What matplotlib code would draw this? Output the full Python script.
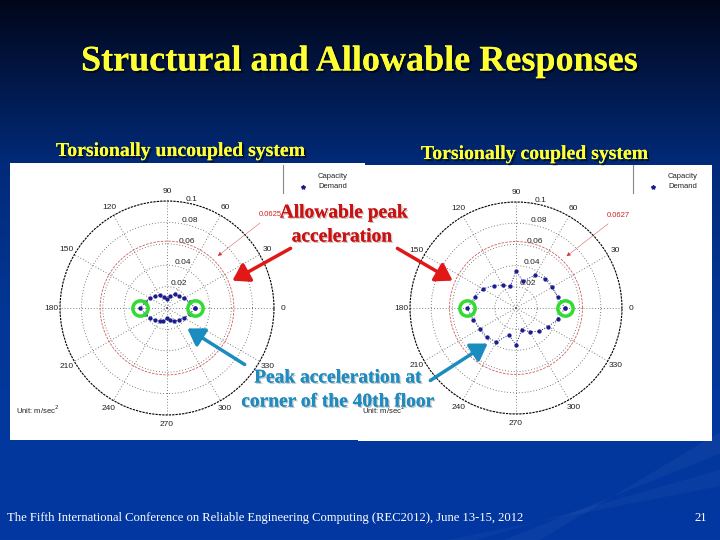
import numpy as np
import matplotlib
matplotlib.use('Agg')
import matplotlib.pyplot as plt
from matplotlib.colors import LinearSegmentedColormap
from matplotlib.patches import Rectangle, FancyArrowPatch, Polygon
import matplotlib.patheffects as pe

W, H = 720, 540

# data (peak acceleration at the corner, m/sec^2)
angles_deg = [0, 15, 30, 45, 60, 75, 90, 105, 120, 135, 150, 165,
              180, 195, 210, 225, 240, 255, 270, 285, 300, 315, 330, 345]
demand_uncoupled = [0.026, 0.022, 0.018, 0.016, 0.015, 0.012, 0.008, 0.011,
                    0.014, 0.016, 0.018, 0.021, 0.025, 0.021, 0.018, 0.016,
                    0.014, 0.013, 0.009, 0.012, 0.014, 0.016, 0.018, 0.022]
demand_coupled = [0.046, 0.041, 0.039, 0.039, 0.036, 0.026, 0.035, 0.021,
                  0.025, 0.030, 0.036, 0.040, 0.046, 0.042, 0.039, 0.039,
                  0.037, 0.026, 0.035, 0.021, 0.026, 0.031, 0.035, 0.041]
capacity_uncoupled = 0.0625
capacity_coupled = 0.0627
r_ticks = [0.02, 0.04, 0.06, 0.08, 0.1]
r_tick_labels = ['0.02', '0.04', '0.06', '0.08', '0.1']
theta_ticks = [0, 30, 60, 90, 120, 150, 180, 210, 240, 270, 300, 330]

title = 'Structural and Allowable Responses'
sub_left = 'Torsionally uncoupled system'
sub_right = 'Torsionally coupled system'
footer = ('The Fifth International Conference on Reliable Engineering '
          'Computing (REC2012), June 13-15, 2012')

SERIF = 'Liberation Serif'
SANS = 'Liberation Sans'


def fx(x):
    return x / W


def fy(y):
    return 1 - y / H


fig = plt.figure(figsize=(7.2, 5.4), dpi=100)

# slide background
bg = fig.add_axes([0, 0, 1, 1], zorder=-10)
cmap = LinearSegmentedColormap.from_list(
    'slide', [(0.0, '#01061a'), (0.3, '#022a78'), (0.6, '#023798'), (1.0, '#0338a2')])
bg.imshow(np.linspace(0, 1, 256).reshape(-1, 1), aspect='auto', cmap=cmap,
          extent=[0, 1, 0, 1])
bg.add_patch(Polygon([[0.70, 0.0], [1.0, 0.16], [1.0, 0.20], [0.75, 0.0]],
                     closed=True, color='white', alpha=0.04, lw=0))
bg.add_patch(Polygon([[0.62, 0.0], [1.0, 0.10], [1.0, 0.13], [0.66, 0.0]],
                     closed=True, color='white', alpha=0.03, lw=0))
# white panels of the two pasted figures
bg.add_patch(Rectangle((fx(10), fy(440)), fx(365 - 10), (440 - 163) / H,
                       color='white', lw=0))
bg.add_patch(Rectangle((fx(358), fy(441)), fx(712 - 358), (441 - 165) / H,
                       color='white', lw=0))
bg.set_xlim(0, 1)
bg.set_ylim(0, 1)
bg.axis('off')

shadow = [pe.withSimplePatchShadow(offset=(1.5, -1.5), shadow_rgbFace='black', alpha=0.6), pe.Normal()]
fig.text(0.5, fy(62), title, color='#ffff33', fontsize=26, family=SERIF,
         weight='bold', ha='center', va='center', path_effects=shadow)
fig.text(fx(181), fy(151), sub_left, color='#ffff33', fontsize=14.2, family=SERIF,
         weight='bold', ha='center', va='center', path_effects=shadow)
fig.text(fx(535), fy(154), sub_right, color='#ffff33', fontsize=14.2, family=SERIF,
         weight='bold', ha='center', va='center', path_effects=shadow)
fig.text(fx(7), fy(518), footer, color='white', fontsize=9.1, family=SERIF,
         ha='left', va='center')
fig.text(fx(707), fy(518), '21', color='white', fontsize=9.1, family=SERIF,
         ha='right', va='center')


def draw_polar(cx, cy, rad, demand, capacity, legend_x):
    ax = fig.add_axes([fx(cx - rad), fy(cy + rad), 2 * rad / W, 2 * rad / H],
                      projection='polar')
    ax.set_facecolor('none')
    th = np.deg2rad(angles_deg + [angles_deg[0]])
    ax.plot(th, demand + [demand[0]], ls=':', color='#1c1c8f', lw=0.7,
            marker='o', ms=2.1)
    circle = np.linspace(0, 2 * np.pi, 240)
    ax.plot(circle, np.full_like(circle, capacity), ls=(0, (3, 1.5)),
            color='#d25a5a', lw=0.6)
    ax.plot(np.deg2rad([0, 180]), [demand[0], demand[12]], ls='none', marker='o',
            ms=11, mfc='none', mec='#30dc30', mew=2.5)
    ax.set_ylim(0, 0.1)
    ax.set_yticks(r_ticks)
    ax.set_yticklabels(r_tick_labels)
    ax.set_rlabel_position(80)
    ax.set_xticks(np.deg2rad(theta_ticks))
    ax.set_xticklabels([str(t) for t in theta_ticks])
    ax.grid(True, ls=(0, (1, 2.5)), color='#555555', lw=0.6)
    ax.spines['polar'].set_linestyle((0, (1, 2)))
    ax.spines['polar'].set_linewidth(0.8)
    ax.tick_params(axis='x', labelsize=6, pad=-4, colors='#222222')
    ax.tick_params(axis='y', labelsize=6, colors='#222222')
    for lab in ax.get_xticklabels() + ax.get_yticklabels():
        lab.set_family(SANS)
    ax.annotate(f'{capacity:g}', xy=(np.deg2rad(46), capacity + 0.003),
                xytext=(np.deg2rad(42), 0.13), color='#cc2222', fontsize=5.5,
                family=SANS, ha='center', va='center', annotation_clip=False,
                arrowprops=dict(arrowstyle='-|>', color='#cc3333', lw=0.3,
                                mutation_scale=6))
    # legend
    fig.add_artist(plt.Line2D([fx(legend_x - 35)] * 2, [fy(165), fy(193)],
                              color='#888888', lw=0.8))
    fig.text(fx(legend_x), fy(176), 'Capacity', fontsize=5.5, family=SANS,
             va='center', color='#222222')
    fig.text(fx(legend_x), fy(187), 'Demand', fontsize=5.5, family=SANS,
             va='center', color='#222222')
    fig.add_artist(plt.Line2D([fx(legend_x - 15)], [fy(187)], marker='*', ms=3,
                              color='#1c1c8f', ls='none'))
    return ax


draw_polar(167, 308, 107, demand_uncoupled, capacity_uncoupled, 318)
draw_polar(516, 308, 106, demand_coupled, capacity_coupled, 668)

fig.text(fx(16), fy(410), 'Unit: m/sec$^2$', fontsize=5.5, family=SANS,
         va='center', color='#222222')
fig.text(fx(362), fy(410), 'Unit: m/sec$^2$', fontsize=5.5, family=SANS,
         va='center', color='#222222')

# call-outs
light = [pe.withSimplePatchShadow(offset=(1, -1), shadow_rgbFace='#bbbbbb', alpha=0.8), pe.Normal()]
fig.text(fx(344), fy(213), 'Allowable peak', color='#cc1111', fontsize=14,
         family=SERIF, weight='bold', ha='center', va='center', path_effects=light)
fig.text(fx(342), fy(237), 'acceleration', color='#cc1111', fontsize=14,
         family=SERIF, weight='bold', ha='center', va='center', path_effects=light)
fig.text(fx(338), fy(378), 'Peak acceleration at', color='#1e8cc0', fontsize=14,
         family=SERIF, weight='bold', ha='center', va='center', path_effects=light)
fig.text(fx(338), fy(402), 'corner of the 40th floor', color='#1e8cc0', fontsize=14,
         family=SERIF, weight='bold', ha='center', va='center', path_effects=light)


def arrow(x0, y0, x1, y1, color):
    fig.add_artist(FancyArrowPatch((fx(x0), fy(y0)), (fx(x1), fy(y1)),
                                   transform=fig.transFigure,
                                   arrowstyle='-|>,head_length=0.7,head_width=0.45',
                                   mutation_scale=14, color=color, lw=2.5))


arrow(293, 247, 230, 282, '#e01818')
arrow(395, 247, 455, 282, '#e01818')
arrow(247, 366, 185, 327, '#1a8cc0')
arrow(428, 382, 490, 342, '#1a8cc0')

fig.savefig('out.png', dpi=100)
